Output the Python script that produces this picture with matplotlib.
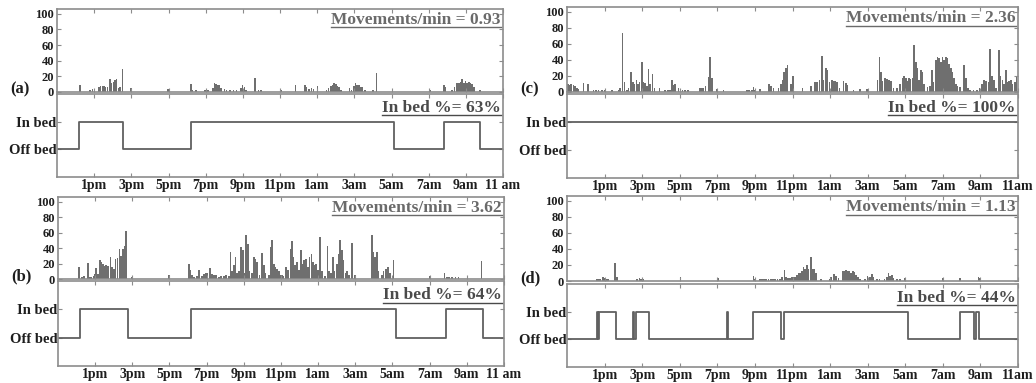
import matplotlib
matplotlib.use("Agg")
import matplotlib.pyplot as plt
from matplotlib.lines import Line2D

plt.rcParams['font.family'] = ['Liberation Serif', 'DejaVu Serif']
plt.rcParams['font.weight'] = 'bold'

# ---------------- data ----------------
time_ticks = [2, 4, 6, 8, 10, 12, 14, 16, 18, 20, 22, 24]   # hours after 11am
time_labels_ab = ['1pm', '3pm', '5pm', '7pm', '9pm', '11pm', '1am', '3am', '5am', '7am', '9am', '11 am']
time_labels_cd = ['1pm', '3pm', '5pm', '7pm', '9pm', '11pm', '1am', '3am', '5am', '7am', '9am', '11am']
move_ticks = [0, 20, 40, 60, 80, 100]

panel_names = ['(a)', '(b)', '(c)', '(d)']
rate_labels = ['Movements/min = 0.93', 'Movements/min = 3.62', 'Movements/min = 2.36', 'Movements/min = 1.13']
inbed_labels = ['In bed %= 63%', 'In bed %= 64%', 'In bed %= 100%', 'In bed %= 44%']

move_a_t = [1.24, 1.78, 1.90, 2.01, 2.26, 2.35, 2.44, 2.53, 2.62, 2.71, 2.85, 2.94, 3.03, 3.12, 3.21, 3.30,
            3.39, 3.52, 3.98, 5.96, 7.21, 7.30, 7.48, 7.97, 8.11, 8.38, 8.47, 8.56, 8.65, 8.74, 8.83, 9.01,
            9.13, 9.31, 9.49, 9.67, 9.89, 9.99, 10.08, 10.17, 10.66, 10.84, 10.98, 12.04, 12.83, 13.33, 13.42,
            13.56, 13.69, 13.81, 14.01, 14.50, 14.62, 14.73, 14.82, 14.91, 15.00, 15.09, 15.18, 15.27, 15.75,
            15.84, 15.97, 16.06, 16.15, 16.24, 16.32, 16.42, 16.56, 17.01, 17.19, 18.05, 20.06, 20.81, 20.90,
            21.26, 21.40, 21.53, 21.62, 21.71, 21.80, 21.89, 21.98, 22.07, 22.16, 22.25, 22.34, 22.44, 22.75]
move_a_v = [9, 2, 4, 2, 6, 8, 8, 8, 7, 7, 16, 12, 13, 15, 17, 5,
            6, 29, 5, 4, 10, 3, 2, 3, 2, 5, 12, 10, 9, 9, 5, 4,
            2, 2, 2, 2, 5, 9, 7, 3, 18, 2, 2, 3, 9, 9, 6,
            4, 5, 4, 8, 2, 5, 8, 9, 11, 10, 8, 6, 3, 5,
            3, 8, 11, 9, 9, 7, 6, 3, 3, 24, 3, 3, 9, 6,
            3, 6, 11, 12, 13, 16, 12, 14, 12, 13, 11, 10, 6, 3]

move_b_t = [1.12, 1.30, 1.39, 1.61, 1.71, 1.80, 1.93, 1.98, 2.05, 2.16, 2.25, 2.34, 2.43, 2.52, 2.59, 2.70,
            2.83, 2.92, 3.01, 3.10, 3.20, 3.31, 3.40, 3.49, 3.58, 3.67, 3.96, 5.97, 7.04, 7.13, 7.22, 7.31,
            7.49, 7.58, 7.76, 7.85, 7.94, 8.03, 8.17, 8.30, 8.39, 8.51, 8.66, 8.78, 8.92, 9.05, 9.19, 9.28,
            9.37, 9.46, 9.55, 9.64, 9.73, 9.86, 9.95, 10.04, 10.13, 10.22, 10.31, 10.45, 10.54, 10.63, 10.72,
            10.85, 10.99, 11.08, 11.17, 11.35, 11.44, 11.53, 11.62, 11.71, 11.80, 11.89, 11.96, 12.05, 12.14,
            12.26, 12.37, 12.50, 12.58, 12.67, 12.76, 12.85, 12.98, 13.07, 13.16, 13.25, 13.34, 13.45, 13.54,
            13.63, 13.72, 13.80, 13.89, 13.98, 14.11, 14.20, 14.38, 14.50, 14.59, 14.68, 14.79, 14.88, 15.01,
            15.10, 15.19, 15.27, 15.36, 15.46, 15.54, 15.67, 15.81, 15.99, 16.89, 16.98, 17.07, 17.16, 17.25,
            17.43, 17.52, 17.65, 17.75, 17.88, 18.06, 20.03, 20.79, 20.93, 21.05, 21.20, 21.38, 21.56, 22.04,
            22.78]
move_b_v = [16, 3, 4, 21, 2, 2, 4, 6, 14, 6, 24, 22, 20, 17, 18, 17,
            28, 16, 13, 26, 27, 39, 30, 39, 43, 62, 3, 5, 19, 12, 5, 3,
            4, 11, 4, 7, 8, 8, 14, 7, 5, 5, 3, 4, 4, 5, 4, 35,
            10, 18, 28, 8, 10, 42, 38, 8, 57, 45, 10, 8, 28, 26, 22,
            5, 33, 18, 8, 5, 42, 50, 20, 15, 13, 10, 5, 5, 4,
            15, 12, 39, 49, 28, 18, 22, 12, 38, 20, 24, 26, 15, 28,
            32, 22, 18, 20, 12, 54, 10, 4, 43, 10, 8, 28, 10, 20,
            32, 51, 38, 24, 8, 10, 5, 47, 5, 57, 35, 28, 35, 10,
            5, 10, 13, 15, 8, 25, 4, 8, 3, 2, 3, 3, 2, 4,
            23]

move_c_t = [0.05, 0.13, 0.20, 0.35, 0.44, 0.53, 0.62, 0.88, 1.12, 1.42, 1.54, 1.68, 1.86, 2.00, 2.39, 2.75,
            2.83, 2.96, 3.05, 3.19, 3.28, 3.37, 3.42, 3.51, 3.60, 3.69, 3.77, 3.86, 3.99, 4.08, 4.16, 4.25,
            4.34, 4.43, 4.55, 4.66, 4.93, 5.23, 5.37, 5.49, 5.58, 5.67, 5.76, 5.94, 6.15, 6.29, 6.43, 7.05,
            7.14, 7.23, 7.36, 7.53, 7.62, 7.71, 7.98, 8.33, 9.57, 9.70, 9.84, 9.93, 10.02, 10.28, 10.76, 10.87,
            10.99, 11.26, 11.40, 11.47, 11.56, 11.65, 11.74, 11.93, 12.02, 12.53, 12.98, 13.21, 13.30, 13.44,
            13.56, 13.65, 13.78, 13.86, 13.97, 14.09, 14.18, 14.27, 14.36, 14.50, 14.71, 14.86, 14.93, 15.25,
            15.60, 15.96, 16.52, 16.63, 16.72, 16.80, 16.93, 17.02, 17.14, 17.25, 17.37, 17.55, 17.73, 17.85,
            17.94, 18.03, 18.12, 18.21, 18.29, 18.38, 18.47, 18.56, 18.65, 18.74, 18.83, 18.92, 19.00, 19.18,
            19.32, 19.41, 19.50, 19.63, 19.71, 19.80, 19.89, 19.98, 20.07, 20.16, 20.25, 20.33, 20.42, 20.51,
            20.60, 20.69, 20.78, 20.92, 21.13, 21.22, 21.33, 21.45, 21.63, 21.81, 21.95, 22.07, 22.20, 22.30,
            22.43, 22.52, 22.62, 22.73, 22.84, 22.98, 23.07, 23.17, 23.26, 23.35, 23.44, 23.53, 23.62, 23.70,
            23.85, 23.93]
move_c_v = [10, 9, 10, 9, 8, 5, 4, 11, 10, 2, 2, 2, 2, 3, 2, 3,
            5, 73, 12, 3, 5, 4, 25, 12, 10, 15, 10, 12, 38, 12, 11, 8,
            29, 10, 23, 5, 5, 3, 3, 3, 15, 9, 10, 5, 3, 3, 3, 5,
            5, 5, 8, 19, 44, 18, 4, 2, 2, 2, 2, 6, 3, 4, 10, 8,
            5, 5, 10, 15, 25, 30, 34, 10, 20, 5, 7, 13, 12, 15,
            45, 15, 30, 28, 12, 15, 14, 14, 12, 5, 14, 11, 9, 3,
            4, 4, 15, 44, 25, 14, 17, 16, 15, 14, 5, 5, 10, 17,
            20, 18, 14, 18, 16, 17, 58, 37, 30, 15, 28, 25, 10, 6,
            8, 28, 12, 40, 44, 42, 38, 44, 40, 44, 42, 35, 30, 25,
            18, 10, 8, 6, 34, 18, 5, 3, 3, 3, 5, 10, 15, 14,
            12, 54, 20, 15, 5, 53, 20, 15, 10, 28, 12, 14, 15, 10,
            12, 20]

move_d_t = [1.59, 1.68, 1.77, 1.91, 2.00, 2.13, 2.21, 2.57, 2.66, 3.72, 3.85, 3.95, 4.08, 6.03, 8.03, 9.93,
            10.02, 10.28, 10.37, 10.49, 10.60, 10.73, 10.85, 10.96, 11.08, 11.20, 11.35, 11.43, 11.58, 11.66,
            11.75, 11.88, 11.97, 12.05, 12.14, 12.23, 12.32, 12.41, 12.50, 12.59, 12.68, 12.76, 12.85, 12.98,
            13.07, 13.16, 13.24, 13.51, 13.97, 14.06, 14.22, 14.31, 14.45, 14.68, 14.77, 14.86, 14.94, 15.03,
            15.12, 15.21, 15.30, 15.39, 15.48, 15.60, 15.87, 15.99, 16.13, 16.22, 16.31, 16.49, 16.63, 16.90,
            17.02, 17.11, 17.20, 17.29, 17.38, 17.55, 17.73, 18.00, 20.00, 20.92, 21.90, 21.98]
move_d_v = [2, 2, 2, 5, 4, 3, 2, 23, 5, 3, 4, 2, 3, 5, 4, 6,
            3, 2, 3, 3, 3, 3, 3, 2, 3, 2, 3, 5, 14, 5,
            4, 4, 5, 5, 5, 8, 10, 10, 12, 17, 15, 20, 15, 30,
            15, 15, 10, 2, 3, 5, 9, 6, 4, 13, 12, 14, 12, 12,
            10, 13, 11, 8, 5, 2, 3, 6, 5, 9, 5, 3, 2, 3,
            5, 10, 6, 8, 4, 3, 2, 4, 4, 4, 5, 4]

bed_a_t = [0, 1.20, 3.53, 7.21, 18.15, 20.84, 22.78, 24]
bed_a_s = [0, 1, 0, 1, 0, 1, 0, 0]
bed_b_t = [0, 1.18, 3.78, 7.14, 18.19, 20.90, 22.85, 24]
bed_b_s = [0, 1, 0, 1, 0, 1, 0, 0]
bed_c_t = [0, 24]
bed_c_s = [1, 1]
bed_d_t = [0, 1.58, 1.63, 1.68, 2.62, 3.51, 3.57, 3.67, 4.34, 8.53, 8.57, 9.89, 11.38, 11.56, 18.12,
           20.92, 21.68, 21.77, 21.93, 24]
bed_d_s = [0, 1, 0, 1, 0, 1, 0, 1, 0, 1, 0, 1, 0, 1, 0, 1, 0, 1, 0, 0]

moves = [(move_a_t, move_a_v), (move_b_t, move_b_v), (move_c_t, move_c_v), (move_d_t, move_d_v)]
beds = [(bed_a_t, bed_a_s), (bed_b_t, bed_b_s), (bed_c_t, bed_c_s), (bed_d_t, bed_d_s)]
xlabels = [time_labels_ab, time_labels_ab, time_labels_cd, time_labels_cd]

# ---------------- layout (pixel boxes: left, right, top_bar, bottom_bar, top_bed, bottom_bed) ----
W, H = 1036, 383
boxes = [
    (57, 503, 9, 92, 94, 177),
    (58, 504, 197, 279, 281, 366),
    (567, 1018, 7, 92, 94, 178),
    (567, 1018, 196, 281, 284, 367),
]

GRAY = '#6f6f6f'
SPINE = '#8c8c8c'
TXT = '#1e1e1e'

fig = plt.figure(figsize=(W / 100, H / 100), dpi=100)


def frac(l, r, t, b):
    return [l / W, 1 - b / H, (r - l) / W, (b - t) / H]


texts_to_underline = []
for i in range(4):
    l, r, tb, bb, tt, bt = boxes[i]
    axm = fig.add_axes(frac(l, r, tb, bb))
    axb = fig.add_axes(frac(l, r, tt, bt))

    t, v = moves[i]
    axm.bar(t, v, width=0.085, color=GRAY, linewidth=0, align='center')
    axm.set_xlim(0, 24)
    axm.set_ylim(0, 106)
    axm.set_yticks(move_ticks)
    axm.set_xticks(time_ticks)
    axm.set_xticklabels([])
    axm.tick_params(axis='both', direction='in', length=3, width=0.8, color=SPINE,
                    top=True, right=True, labelsize=9, labelcolor=TXT, pad=2)
    for lab in axm.get_yticklabels():
        lab.set_fontweight('bold')

    bt_, bs_ = beds[i]
    axb.step(bt_, bs_, where='post', color='#606060', linewidth=1.3)
    axb.set_xlim(0, 24)
    axb.set_ylim(-1, 2)
    axb.set_yticks([1, 0])
    axb.set_yticklabels(['In bed', 'Off bed'])
    axb.set_xticks(time_ticks)
    axb.set_xticklabels(xlabels[i])
    axb.tick_params(axis='both', direction='in', length=3, width=0.8, color=SPINE,
                    top=True, right=True, labelcolor=TXT)
    axb.tick_params(axis='y', labelsize=10.5, pad=0.5)
    axb.tick_params(axis='x', labelsize=10, pad=1.5)
    for lab in axb.get_yticklabels() + axb.get_xticklabels():
        lab.set_fontweight('bold')

    for ax in (axm, axb):
        for s in ax.spines.values():
            s.set_color(SPINE)
            s.set_linewidth(1.2)

    t1 = axm.text(0.995, 0.87, rate_labels[i], transform=axm.transAxes, ha='right', va='center',
                  fontsize=12.5, fontweight='bold', color='#6a6a6a')
    t2 = axb.text(0.995, 0.835, inbed_labels[i], transform=axb.transAxes, ha='right', va='center',
                  fontsize=12.5, fontweight='bold', color='#4a4a4a')
    texts_to_underline.append((t1, '#6a6a6a'))
    texts_to_underline.append((t2, '#4a4a4a'))

    # panel label
    fig.text((l - 47) / W, 1 - (bb - 3) / H, panel_names[i], ha='left', va='center',
             fontsize=12, fontweight='bold', color=TXT)

fig.canvas.draw()
renderer = fig.canvas.get_renderer()
for txt, col in texts_to_underline:
    bb = txt.get_window_extent(renderer)
    x0, x1 = bb.x0 / W, bb.x1 / W
    y = (bb.y0 + 0.5) / H
    fig.add_artist(Line2D([x0, x1], [y, y], transform=fig.transFigure, color=col, linewidth=1.0))

fig.savefig('out.png', dpi=100)
